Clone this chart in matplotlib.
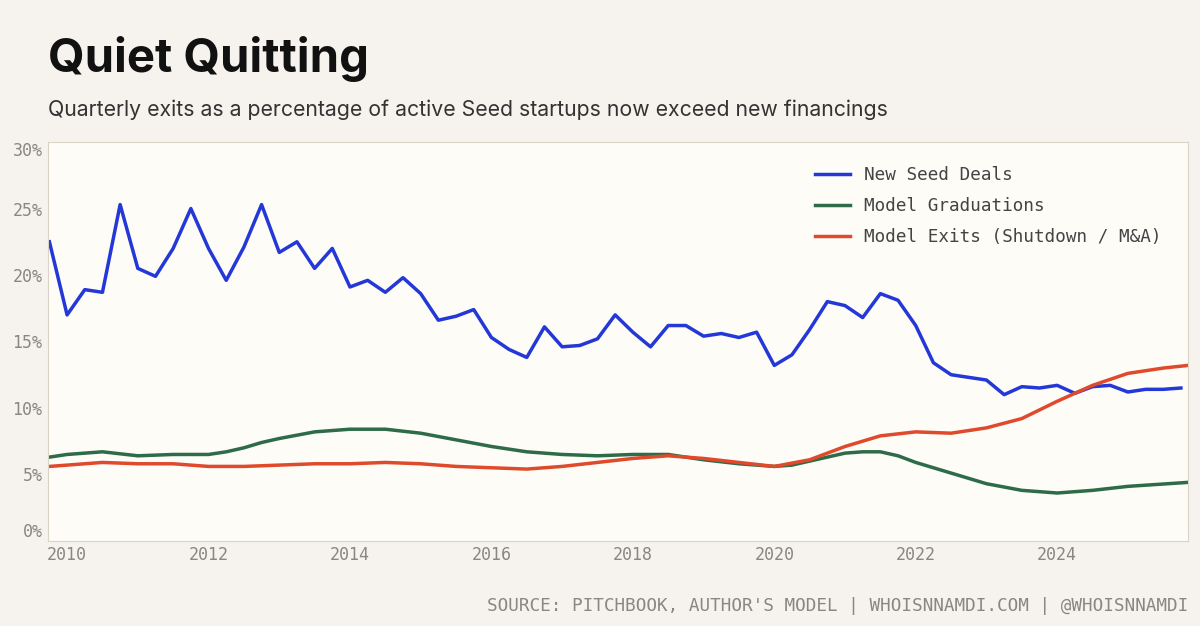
import numpy as np
import matplotlib
matplotlib.use("Agg")
import matplotlib.pyplot as plt

# quarterly, Q4 2009 -> Q4 2025
seed_x = 2009.75 + 0.25 * np.arange(65)
seed_deals = [22.5, 17.0, 18.9, 18.7, 25.3, 20.5, 19.9, 22.0, 25.0, 22.0, 19.6, 22.1, 25.3,
              21.7, 22.5, 20.5, 22.0, 19.1, 19.6, 18.7, 19.8, 18.6, 16.6, 16.9, 17.4, 15.3,
              14.4, 13.8, 16.1, 14.6, 14.7, 15.2, 17.0, 15.7, 14.6, 16.2, 16.2, 15.4, 15.6,
              15.3, 15.7, 13.2, 14.0, 15.9, 18.0, 17.7, 16.8, 18.6, 18.1, 16.2, 13.4, 12.5,
              12.3, 12.1, 11.0, 11.6, 11.5, 11.7, 11.1, 11.6, 11.7, 11.2, 11.4, 11.4, 11.5]

grad_x = [2009.75, 2010.0, 2010.5, 2011.0, 2011.5, 2012.0, 2012.25, 2012.5, 2012.75, 2013.0,
          2013.5, 2014.0, 2014.5, 2015.0, 2015.5, 2016.0, 2016.5, 2017.0, 2017.5, 2018.0,
          2018.5, 2019.0, 2019.5, 2020.0, 2020.25, 2020.5, 2021.0, 2021.25, 2021.5, 2021.75,
          2022.0, 2022.5, 2023.0, 2023.5, 2024.0, 2024.5, 2025.0, 2025.85]
graduations = [6.3, 6.5, 6.7, 6.4, 6.5, 6.5, 6.7, 7.0, 7.4, 7.7, 8.2, 8.4, 8.4, 8.1, 7.6, 7.1,
               6.7, 6.5, 6.4, 6.5, 6.5, 6.1, 5.8, 5.6, 5.7, 6.0, 6.6, 6.7, 6.7, 6.4, 5.9, 5.1,
               4.3, 3.8, 3.6, 3.8, 4.1, 4.4]

exit_x = [2009.75, 2010.5, 2011.0, 2011.5, 2012.0, 2012.5, 2013.0, 2013.5, 2014.0, 2014.5,
          2015.0, 2015.5, 2016.0, 2016.5, 2017.0, 2017.5, 2018.0, 2018.5, 2019.0, 2019.5,
          2020.0, 2020.5, 2021.0, 2021.5, 2022.0, 2022.5, 2023.0, 2023.5, 2024.0, 2024.5,
          2025.0, 2025.5, 2025.85]
exits = [5.6, 5.9, 5.8, 5.8, 5.6, 5.6, 5.7, 5.8, 5.8, 5.9, 5.8, 5.6, 5.5, 5.4, 5.6, 5.9, 6.2,
         6.4, 6.2, 5.9, 5.6, 6.1, 7.1, 7.9, 8.2, 8.1, 8.5, 9.2, 10.5, 11.7, 12.6, 13.0, 13.2]

BG = "#f6f3ee"
MONO = "DejaVu Sans Mono"
GREY = "#8a8680"

fig = plt.figure(figsize=(12, 6.26), dpi=100, facecolor=BG)
ax = fig.add_axes([0.04, 0.136, 0.95, 0.637])
ax.set_facecolor("#fdfcf7")

ax.plot(seed_x, seed_deals, color="#2438d8", lw=2.5, label="New Seed Deals")
ax.plot(grad_x, graduations, color="#2e6b48", lw=2.5, label="Model Graduations")
ax.plot(exit_x, exits, color="#e04a2c", lw=2.5, label="Model Exits (Shutdown / M&A)")

ax.set_xlim(2009.73, 2025.85)
ax.set_ylim(0, 30)
ax.set_xticks(range(2010, 2025, 2))
ax.set_yticks(range(0, 31, 5))
ax.set_yticklabels([f"{v}%" for v in range(0, 31, 5)])
ax.tick_params(length=0, labelsize=12, labelcolor=GREY, pad=4)
for lab in ax.get_xticklabels() + ax.get_yticklabels():
    lab.set_fontfamily(MONO)
ylabs = ax.get_yticklabels()
ylabs[0].set_verticalalignment("bottom")
ylabs[-1].set_verticalalignment("top")
for s in ax.spines.values():
    s.set_color("#d9d4c6")

leg = ax.legend(loc="upper right", bbox_to_anchor=(0.991, 0.98), frameon=False,
                prop={"family": MONO, "size": 12.7}, handlelength=2.0, labelspacing=0.75)
for t in leg.get_texts():
    t.set_color("#444444")

fig.text(0.04, 0.905, "Quiet Quitting", fontsize=34, fontweight="bold", family="Inter",
         color="#111111", va="center")
fig.text(0.04, 0.825, "Quarterly exits as a percentage of active Seed startups now exceed new financings",
         fontsize=15.3, family="Inter", color="#333333", va="center")
fig.text(0.99, 0.032, "SOURCE: PITCHBOOK, AUTHOR'S MODEL | WHOISNNAMDI.COM | @WHOISNNAMDI",
         fontsize=12.7, family=MONO, color=GREY, ha="right", va="center")

fig.savefig("out.png", dpi=100, facecolor=BG)
